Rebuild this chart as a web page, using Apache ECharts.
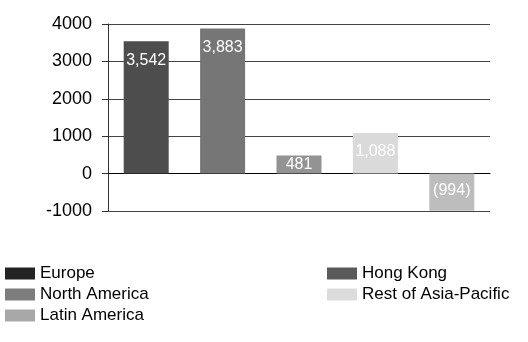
<!DOCTYPE html>
<html>
<head>
<meta charset="utf-8">
<script src="https://cdn.jsdelivr.net/npm/echarts@6/dist/echarts.min.js"></script>
<style>
  html, body { margin: 0; padding: 0; background: #fff; }
  #container { width: 528px; height: 342px; }
</style>
</head>
<body>
<div id="container"></div>
<script>
var dom = document.getElementById('container');
var myChart = echarts.init(dom, null, { renderer: 'canvas' });

// data
var regions = ['Europe', 'Hong Kong', 'North America', 'Rest of Asia-Pacific', 'Latin America'];
var values = [3542, 3883, 481, 1088, -994];
var labels = ['3,542', '3,883', '481', '1,088', '(994)'];
var yTicks = [-1000, 0, 1000, 2000, 3000, 4000];

// colours: bars and legend swatches differ in the original
var barColors = ['#4d4d4d', '#767676', '#939393', '#dadada', '#bdbdbd'];
var legendColors = ['#232323', '#5a5a5a', '#7d7d7d', '#dcdcdc', '#a8a8a8'];

function legendItem(name) {
    var i = regions.indexOf(name);
    return { name: name, itemStyle: { color: legendColors[i] } };
}

var series = [];
for (var i = 0; i < regions.length; i++) {
    var d = [];
    for (var j = 0; j < regions.length; j++) {
        if (j === i) {
            var item = { value: values[i] };
            if (values[i] >= 0 && values[i] < 700) {
                item.label = { position: 'inside' };
            }
            d.push(item);
        } else {
            d.push('-');
        }
    }
    series.push({
        name: regions[i],
        type: 'bar',
        stack: 'all',
        barWidth: 45,
        data: d,
        itemStyle: { color: barColors[i] },
        label: {
            show: true,
            position: values[i] >= 0 ? 'insideTop' : 'insideBottom',
            distance: values[i] >= 0 ? 11 : 12,
            color: '#fff',
            fontFamily: 'Liberation Sans, Arial, sans-serif',
            fontSize: 16,
            formatter: (function (t) { return function () { return t; }; })(labels[i])
        }
    });
}

var legendText = {
    color: '#000',
    fontFamily: 'Liberation Sans, Arial, sans-serif',
    fontSize: 17
};

var option = {
    animation: false,
    grid: { left: 108, right: 38, top: 24, bottom: 131 },
    legend: [
        {
            orient: 'vertical',
            left: 5,
            top: 265,
            height: 80,
            itemWidth: 30,
            itemHeight: 12,
            itemGap: 4,
            padding: 0,
            icon: 'rect',
            textStyle: legendText,
            data: ['Europe', 'North America', 'Latin America'].map(legendItem)
        },
        {
            orient: 'vertical',
            left: 327,
            top: 265,
            height: 80,
            itemWidth: 30,
            itemHeight: 12,
            itemGap: 4,
            padding: 0,
            icon: 'rect',
            textStyle: legendText,
            data: ['Hong Kong', 'Rest of Asia-Pacific'].map(legendItem)
        }
    ],
    xAxis: {
        type: 'category',
        data: regions,
        axisLine: { onZero: true, lineStyle: { color: '#000', width: 1 } },
        axisTick: { show: false },
        axisLabel: { show: false }
    },
    yAxis: {
        type: 'value',
        min: yTicks[0],
        max: yTicks[yTicks.length - 1],
        interval: 1000,
        axisLine: { show: true, lineStyle: { color: '#333' } },
        axisTick: { show: true, length: 6, lineStyle: { color: '#333' } },
        axisLabel: {
            color: '#000',
            margin: 16,
            fontFamily: 'Liberation Sans, Arial, sans-serif',
            fontSize: 18,
            formatter: function (v) { return String(v); }
        },
        splitLine: { show: true, lineStyle: { color: '#444', width: 1 } }
    },
    series: series
};

myChart.setOption(option);
window.addEventListener('resize', myChart.resize);
</script>
</body>
</html>
